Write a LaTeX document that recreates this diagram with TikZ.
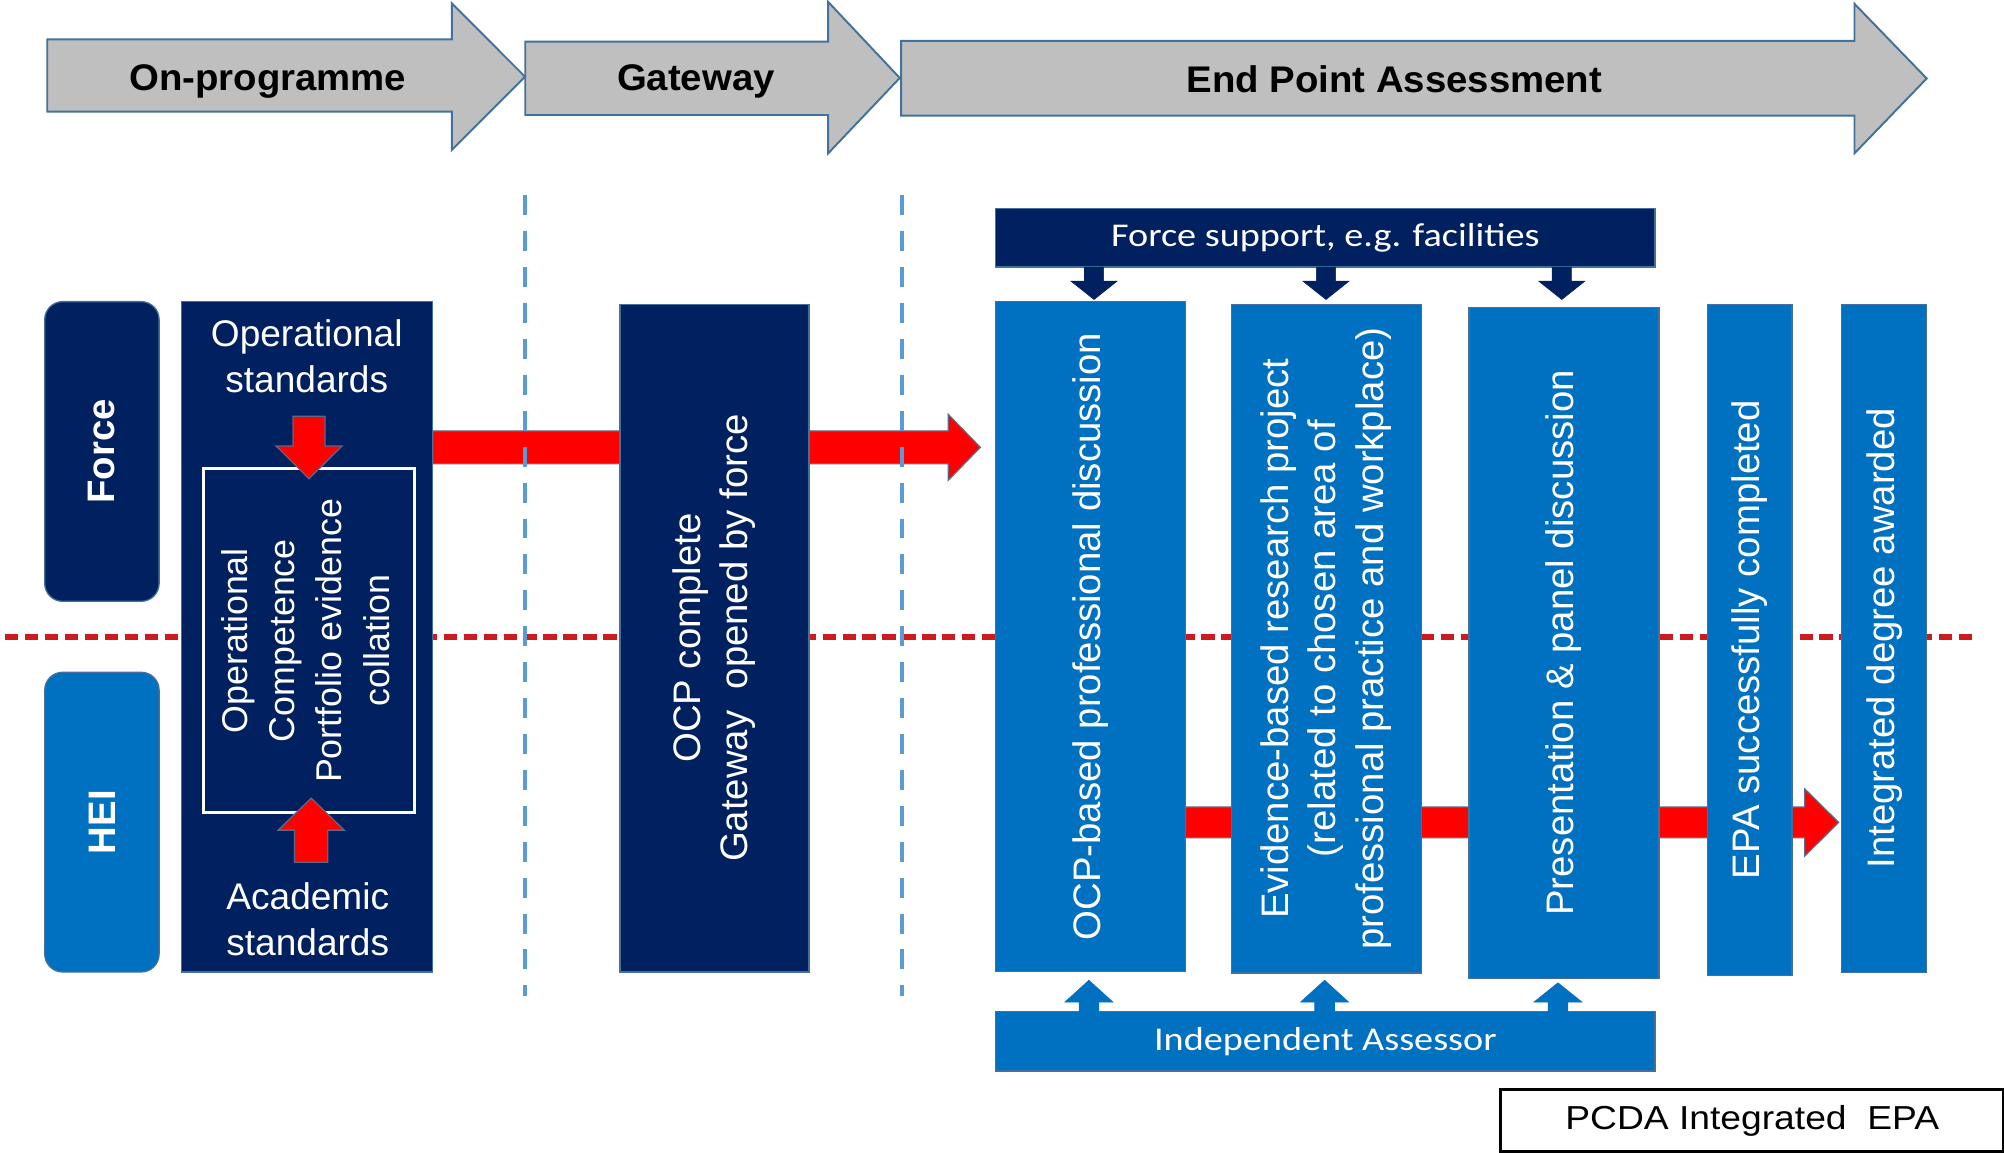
\documentclass[tikz,border=0pt]{standalone}
\usepackage{fontspec}
\usepackage{graphicx}
\setmainfont{Liberation Sans}
\newfontfamily\calibfont[FakeStretch=1.15]{Carlito}
\newfontfamily\wideari[FakeStretch=1.12]{Liberation Sans}
\newfontfamily\topfnt[FakeStretch=1.035]{Liberation Sans}
\usetikzlibrary{calc}
\definecolor{navy}{HTML}{002060}
\definecolor{epablue}{HTML}{0070C0}
\definecolor{arrgray}{HTML}{BFBFBF}
\definecolor{edge}{HTML}{41719C}
\definecolor{arrowedge}{HTML}{5A6A86}
\definecolor{dashred}{HTML}{CC1A1F}
\definecolor{dashblue}{HTML}{5B9BD5}
\definecolor{redfill}{HTML}{FF0000}
% horizontal block arrow: style, start, tip, half shaft, half head, head length
\newcommand{\hblock}[6]{\draw[#1] ($(#2)+(0,-#4)$) -- ($(#3)+({-(#6)},-#4)$) -- ($(#3)+({-(#6)},-#5)$) -- (#3) -- ($(#3)+({-(#6)},#5)$) -- ($(#3)+({-(#6)},#4)$) -- ($(#2)+(0,#4)$) -- cycle;}
% vertical block arrow: style, start, tip, half shaft, half head, head length (negative = upward)
\newcommand{\vblock}[6]{\draw[#1] ($(#2)+(-#4,0)$) -- ($(#3)+(-#4,{-(#6)})$) -- ($(#3)+(-#5,{-(#6)})$) -- (#3) -- ($(#3)+(#5,{-(#6)})$) -- ($(#3)+(#4,{-(#6)})$) -- ($(#2)+(#4,0)$) -- cycle;}
\begin{document}
\begin{tikzpicture}[x=1pt,y=-1pt,
  phase/.style={fill=arrgray, draw=edge, line width=1.5pt},
  phasetxt/.style={font=\topfnt\bfseries\fontsize{29}{34}\selectfont, inner sep=0pt},
  box/.style={draw=edge, line width=1pt, inner sep=0pt, outer sep=0pt, anchor=north west, text=white},
  navybox/.style={box, fill=navy},
  bluebox/.style={box, fill=epablue},
  lanebox/.style={box, rounded corners=14pt},
  rot/.style={font=\fontsize{30}{37}\selectfont},
  stdtxt/.style={text=white, align=center, inner sep=0pt, font=\fontsize{29}{36}\selectfont},
  bartxt/.style={font=\calibfont\fontsize{26}{30}\selectfont},
  redarrow/.style={fill=redfill, draw=arrowedge, line width=1pt},
  navyarrow/.style={fill=navy, draw=navy, line width=0.5pt},
  bluearrow/.style={fill=epablue, draw=epablue, line width=0.5pt},
  reddash/.style={draw=dashred, line width=4.5pt, dash pattern=on 10.4pt off 5.2pt},
  bluedash/.style={draw=dashblue, line width=3.1pt, dash pattern=on 15.6pt off 12.5pt},
]
\useasboundingbox (0,0) rectangle (1568,902);
\fill[white] (0,0) rectangle (1568,902);

% phase arrows
\draw[phase] (37,30.8) -- (353.5,30.8) -- (353.5,2.6) -- (410.8,60) -- (353.5,117.4) -- (353.5,87.4) -- (37,87.4) -- cycle;
\draw[phase] (411,32.6) -- (648,32.6) -- (648,1.5) -- (704,61) -- (648,120) -- (648,90) -- (411,90) -- cycle;
\draw[phase] (705,32) -- (1451,32) -- (1451,3) -- (1507.5,61.4) -- (1451,120) -- (1451,90.5) -- (705,90.5) -- cycle;
\node[phasetxt] (onprog) at (209.5,63.5) {On-programme};
\node[phasetxt] (gwlbl) at (544.5,64) {Gateway};
\node[phasetxt] (epalbl) at (1091,62.2) {End Point Assessment};

% separator lines
\coordinate (rdl) at (4,498.5);
\coordinate (rdr) at (1546,498.5);
\draw[reddash] (rdl) -- (rdr);

% big red arrows (behind boxes)
\coordinate (r1s) at (338.5,350);
\coordinate (r1e) at (767,350);
\hblock{redarrow}{r1s}{r1e}{12.8}{25.7}{25}
\coordinate (r2s) at (927.5,643.5);
\coordinate (r2e) at (1438.6,643.5);
\hblock{redarrow}{r2s}{r2e}{12}{26.3}{26.6}

\coordinate (v1t) at (410.5,152.8);
\coordinate (v1b) at (410.5,779);
\coordinate (v2t) at (705.5,152.8);
\coordinate (v2b) at (705.5,779);
\draw[bluedash] (v1t) -- (v1b);
\draw[bluedash] (v2t) -- (v2b);

% lane labels
\node[lanebox, fill=navy, minimum width=89.5pt, minimum height=234.5pt] (force) at (35,236)
  {\rotatebox{90}{\bfseries\fontsize{30}{36}\selectfont Force}};
\node[lanebox, fill=epablue, minimum width=89.5pt, minimum height=234.5pt] (hei) at (35,526)
  {\rotatebox{90}{\bfseries\fontsize{30}{36}\selectfont HEI}};

% on-programme box
\node[navybox, minimum width=196.5pt, minimum height=524.5pt] (lbox) at (142,236) {};
\node[draw=white, line width=2.5pt, minimum width=165.3pt, minimum height=268.8pt, anchor=north west, inner sep=0pt, text=white, font=\fontsize{28}{37}\selectfont] (inner) at (157.7,365.6)
  {\rotatebox{90}{\begin{tabular}{@{}c@{}}Operational\\Competence\\Portfolio evidence\\collation\end{tabular}}};
\node[stdtxt] (opstd) at (240,278.5) {Operational\\standards};
\node[stdtxt] (acstd) at (240.8,719.5) {Academic\\standards};
\coordinate (d1s) at (241.8,325.6);
\coordinate (d1e) at (241.8,374.6);
\vblock{redarrow}{d1s}{d1e}{12.5}{25.7}{25.6}
\coordinate (u1s) at (243.5,674.7);
\coordinate (u1e) at (243.5,624.5);
\vblock{redarrow}{u1s}{u1e}{13}{25.8}{-25}

% gateway box
\node[navybox, rot, minimum width=148pt, minimum height=522.5pt] (gw) at (485,238)
  {\rotatebox{90}{\begin{tabular}{@{}c@{}}OCP complete\\Gateway~ opened by force\end{tabular}}};

% EPA boxes
\node[navybox, bartxt, minimum width=516pt, minimum height=45.7pt] (fs) at (779,163.3) {Force support, e.g. facilities};
\node[bluebox, rot, minimum width=148.5pt, minimum height=524pt] (b1) at (779,236)
  {\rotatebox{90}{OCP-based professional discussion}};
\node[bluebox, rot, minimum width=148.3pt, minimum height=523.4pt] (b2) at (963.7,238)
  {\rotatebox{90}{\begin{tabular}{@{}c@{}}Evidence-based research project\\(related to chosen area of\\professional practice and workplace)\end{tabular}}};
\node[bluebox, rot, minimum width=148.6pt, minimum height=524.8pt] (b3) at (1149.4,240.6)
  {\rotatebox{90}{Presentation \& panel discussion}};
\node[bluebox, rot, minimum width=66pt, minimum height=525pt] (b4) at (1336,238)
  {\rotatebox{90}{EPA successfully completed}};
\node[bluebox, rot, minimum width=66.5pt, minimum height=522.8pt] (b5) at (1441,238)
  {\rotatebox{90}{Integrated degree awarded}};
\node[bluebox, bartxt, minimum width=516pt, minimum height=46.5pt] (ia) at (779,791.5) {Independent Assessor};

% small support arrows
\coordinate (fa1s) at (856,209);
\coordinate (fa1e) at (856,234.3);
\coordinate (fa2s) at (1037.5,209);
\coordinate (fa2e) at (1037.5,234.3);
\coordinate (fa3s) at (1222,209);
\coordinate (fa3e) at (1222,234.3);
\vblock{navyarrow}{fa1s}{fa1e}{7.5}{18}{14.3}
\vblock{navyarrow}{fa2s}{fa2e}{7.5}{18}{14.3}
\vblock{navyarrow}{fa3s}{fa3e}{7.5}{18}{14.3}
\coordinate (ia1s) at (852,791.5);
\coordinate (ia1e) at (852,767);
\coordinate (ia2s) at (1036.4,791.5);
\coordinate (ia2e) at (1036.4,767);
\coordinate (ia3s) at (1219,791.5);
\coordinate (ia3e) at (1219,769);
\vblock{bluearrow}{ia1s}{ia1e}{7.7}{18.7}{-17}
\vblock{bluearrow}{ia2s}{ia2e}{7.7}{18.7}{-17}
\vblock{bluearrow}{ia3s}{ia3e}{7.7}{18.7}{-15}

% caption box
\node[draw=black, fill=white, line width=2.5pt, minimum width=393.5pt, minimum height=49pt, anchor=north west, inner sep=0pt, font=\wideari\fontsize{26}{30}\selectfont] (pcda) at (1173,851) {PCDA Integrated~ EPA};
\end{tikzpicture}
\end{document}
